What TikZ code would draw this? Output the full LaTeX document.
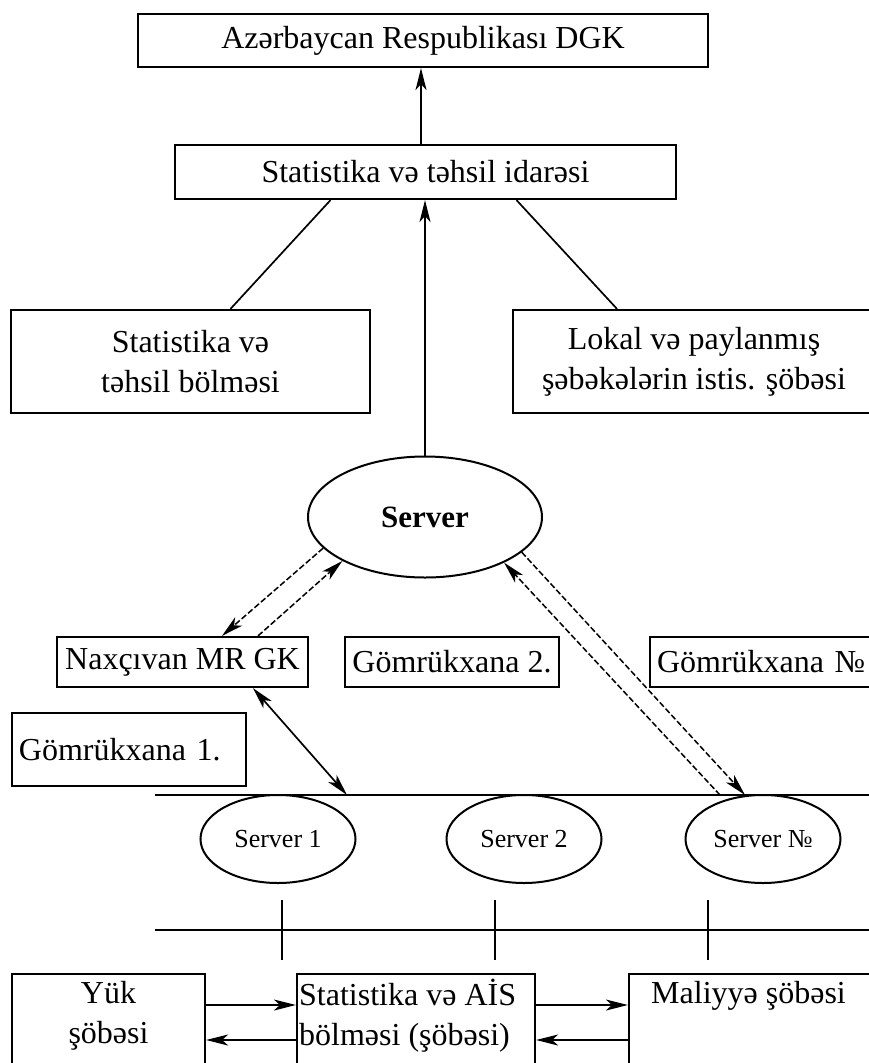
\documentclass[tikz,border=0pt]{standalone}
\usepackage{fontspec}
\setmainfont{Liberation Serif}
\usetikzlibrary{shapes.geometric,arrows.meta}
\begin{document}
\begin{tikzpicture}[x=1pt,y=-1pt,
 >={Stealth[length=22pt,width=11pt,inset=6pt]},
 box/.style={draw,line width=2.2pt,inner sep=0pt,font=\fontsize{32}{40}\selectfont,align=center},
 txt/.style={inner sep=0pt,font=\fontsize{32}{40}\selectfont},
 oval/.style={draw,ellipse,line width=2pt,inner sep=0pt},
 arr/.style={line width=1.7pt,->},
 dasharr/.style={arr,line width=1.5pt,dash pattern=on 6pt off 2.5pt},
 ln/.style={line width=1.7pt}]
\useasboundingbox (0,0) rectangle (869,1063);
% top part
\node[box,minimum width=570,minimum height=53] (dgk) at (423,40.5) {Azərbaycan Respublikası DGK};
\node[box,minimum width=501,minimum height=54] (idara) at (425.5,172) {Statistika və təhsil idarəsi};
\node[box,minimum width=359,minimum height=103] (lbox) at (190.5,361.5) {Statistika və\\təhsil bölməsi};
\node[box,minimum width=362,minimum height=103] (rbox) at (694,361.5) {Lokal və paylanmış\\şəbəkələrin istis. şöbəsi};
\node[oval,minimum width=234,minimum height=121,font=\fontsize{31}{36}\selectfont\bfseries] (srv) at (425,517) {Server};
\draw[arr] ([xshift=-4.5pt]idara.north) -- ([xshift=-2pt]dgk.south);
\draw[arr] (srv.north) -- (srv.north |- idara.south);
\draw[ln] ([xshift=40pt]lbox.north) -- ([xshift=-95pt]idara.south);
\draw[ln] ([xshift=-77pt]rbox.north) -- ([xshift=91pt]idara.south);
% customs
\node[box,minimum width=251,minimum height=50] (naxc) at (182.5,662) {Naxçıvan MR GK};
\node[box,minimum width=214,minimum height=50] (g2) at (452,662) {Gömrükxana 2.};
\node[box,minimum height=50,text width=216,align=left,inner xsep=7pt] (gn) at (765,662) {Gömrükxana №};
\node[box,minimum height=73,text width=220,align=left,inner xsep=7pt] (g1) at (129,749.5) {Gömrükxana 1.};
% upper bus
\coordinate (b1L) at (155,795);
\coordinate (b1R) at (880,795);
\draw[ln] (b1L) -- (b1R);
\coordinate (s1top) at (347,795);
\coordinate (snA) at (745,795);
\coordinate (snB) at (720,795);
\draw[dasharr] (srv.197) -- ([xshift=39.5pt]naxc.north);
\draw[dasharr] ([xshift=75.5pt]naxc.north) -- (srv.208);
\draw[dasharr] (srv.340) -- (snA);
\draw[dasharr] (snB) -- (srv.330);
\draw[line width=1.7pt,<->] ([xshift=70.5pt]naxc.south) -- (s1top);
% servers
\node[oval,minimum width=155,minimum height=88,font=\fontsize{26}{30}\selectfont] (s1) at (278,839) {Server 1};
\node[oval,minimum width=155,minimum height=88,font=\fontsize{26}{30}\selectfont] (s2) at (524,839) {Server 2};
\node[oval,minimum width=155,minimum height=88,font=\fontsize{26}{30}\selectfont] (s3) at (763,839) {Server №};
% lower bus
\coordinate (b2L) at (155,930);
\coordinate (b2R) at (880,930);
\draw[ln] (b2L) -- (b2R);
\coordinate (t1a) at (282,900); \coordinate (t1b) at (282,960);
\coordinate (t2a) at (495,900); \coordinate (t2b) at (495,960);
\coordinate (t3a) at (708,900); \coordinate (t3b) at (708,960);
\draw[ln] (t1a) -- (t1b);
\draw[ln] (t2a) -- (t2b);
\draw[ln] (t3a) -- (t3b);
% bottom boxes
\node[box,minimum width=193,minimum height=110] (yuk) at (108.5,1029) {};
\node[box,minimum width=238,minimum height=110] (stat) at (416,1029) {};
\node[box,minimum width=251,minimum height=110] (mal) at (754.5,1029) {};
\node[txt,align=center] (yukt) at (108.5,1016) {Yük\\şöbəsi};
\node[txt,align=left,anchor=west] (statt) at (299,1016) {Statistika və AİS\\bölməsi (şöbəsi)};
\node[txt,anchor=base west] (malt) at (651,1003) {Maliyyə şöbəsi};
\coordinate (ya) at (0,1005);
\coordinate (yb) at (0,1040);
\draw[arr] (yuk.east |- ya) -- (stat.west |- ya);
\draw[arr] (stat.west |- yb) -- (yuk.east |- yb);
\draw[arr] (stat.east |- ya) -- (mal.west |- ya);
\draw[arr] (mal.west |- yb) -- (stat.east |- yb);
\end{tikzpicture}
\end{document}
